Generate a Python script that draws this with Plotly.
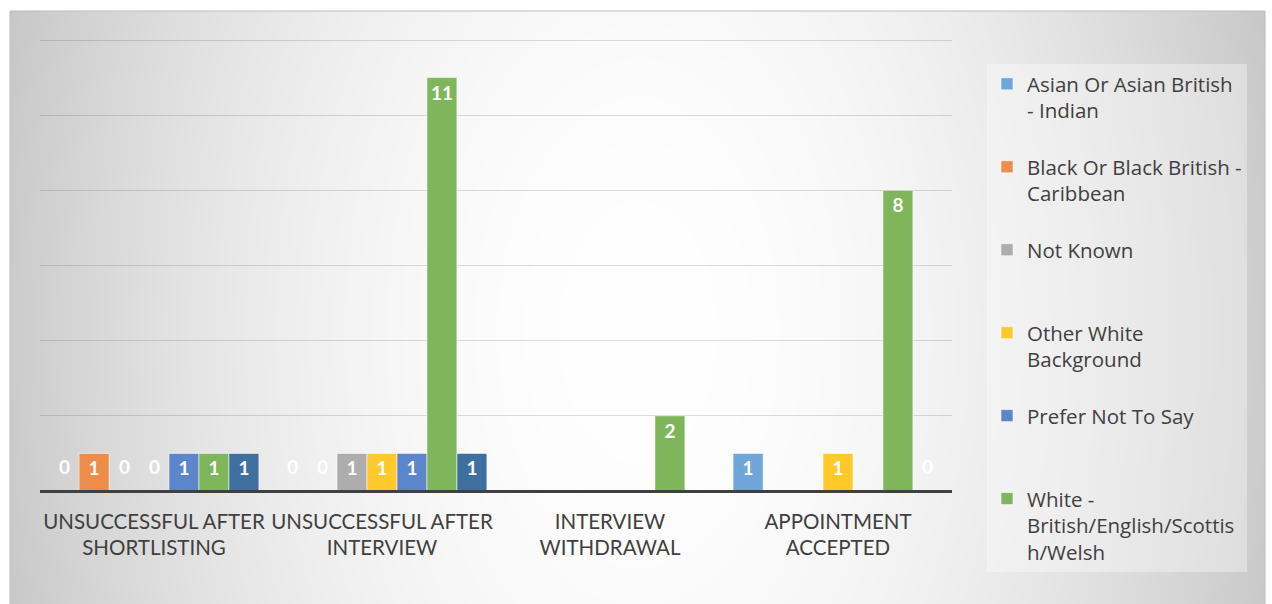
import numpy as np
import zlib, struct, base64
import plotly.graph_objects as go

# ---------------- data ----------------
categories = ["UNSUCCESSFUL AFTER<br>SHORTLISTING", "UNSUCCESSFUL AFTER<br>INTERVIEW",
              "INTERVIEW<br>WITHDRAWAL", "APPOINTMENT<br>ACCEPTED"]
series_names = ["Asian Or Asian British - Indian", "Black Or Black British - Caribbean",
                "Not Known", "Other White Background", "Prefer Not To Say",
                "White - British/English/Scottish/Welsh", "White - Irish"]
legend_labels = ["Asian Or Asian British<br>- Indian", "Black Or Black British -<br>Caribbean",
                 "Not Known", "Other White<br>Background", "Prefer Not To Say",
                 "White -<br>British/English/Scottis<br>h/Welsh", "White - Irish"]
asian_indian = [0, 0, None, 1]
black_caribbean = [1, 0, None, None]
not_known = [0, 1, None, None]
other_white = [0, 1, None, 1]
prefer_not = [1, 1, None, None]
white_british = [1, 11, 2, 8]
white_irish = [1, 1, None, 0]
series_values = [asian_indian, black_caribbean, not_known, other_white,
                 prefer_not, white_british, white_irish]
show_in_legend = [True, True, True, True, True, True, False]
y_ticks = [0, 2, 4, 6, 8, 10, 12]

colors = ["#6FA5D9", "#EE8C4A", "#ADADAD", "#FFC82B", "#5C85CB", "#7FB55B", "#3F6F9E"]

# ---------------- layout constants ----------------
W, H = 1272, 604
ML, MR, MT, MB = 40, 320, 36, 24          # plot area extends below the value axis
PW, PH = W - ML - MR, H - MT - MB
AXIS_PX = 491                              # pixel row of value 0
TOP_TICK_PX = 40                           # pixel row of the top gridline
unit_px = (AXIS_PX - TOP_TICK_PX) / max(y_ticks)
YMAX = (AXIS_PX - MT) / unit_px
YMIN = -(H - MB - AXIS_PX) / unit_px
BARGAP = 0.08
FONT = "Lato"

def px2x(px):
    return (px - ML) / PW

def px2y(py):
    return (H - MB - py) / PH

# ---------------- background gradient image ----------------
def png_uri(gray):
    h, w = gray.shape
    raw = b"".join(b"\x00" + gray[r].astype(np.uint8).tobytes() for r in range(h))
    def chunk(t, d):
        c = struct.pack(">I", len(d)) + t + d
        return c + struct.pack(">I", zlib.crc32(t + d) & 0xffffffff)
    png = (b"\x89PNG\r\n\x1a\n"
           + chunk(b"IHDR", struct.pack(">IIBBBBB", w, h, 8, 0, 0, 0, 0))
           + chunk(b"IDAT", zlib.compress(raw, 9))
           + chunk(b"IEND", b""))
    return "data:image/png;base64," + base64.b64encode(png).decode()

FX0, FX1, FY0, FY1 = 10, 1265, 11, 606
gw, gh = (FX1 - FX0) // 2, (FY1 - FY0) // 2
xx, yy = np.meshgrid(np.arange(gw) * 2 + FX0, np.arange(gh) * 2 + FY0)
d = np.sqrt(((xx - 637) / 660.0) ** 2 + ((yy - 331) / 1100.0) ** 2)
grad = np.clip(255 - 56 * d ** 1.9, 197, 255)
bg_uri = png_uri(grad)

# ---------------- figure ----------------
fig = go.Figure()
for i, (nm, lab, vals, col, sl) in enumerate(zip(series_names, legend_labels, series_values,
                                                colors, show_in_legend)):
    nlines = lab.count("<br>") + 1
    padded = lab + "<br> " * (3 - nlines)
    texts = [str(v) if (v is not None and v != 0) else "" for v in vals]
    fig.add_trace(go.Bar(
        x=categories, y=vals, name=padded, showlegend=sl,
        marker=dict(color=col, line=dict(color="rgba(255,255,255,0.55)", width=1)),
        text=texts, textposition="inside", insidetextanchor="end",
        textfont=dict(color="white", size=19, family=FONT, weight="bold"),
        constraintext="none", legendgroup=f"g{i}",
    ))

# zero-value labels
nser = len(series_values)
slot = PW / len(categories) * (1 - BARGAP) / nser
for i, vals in enumerate(series_values):
    for c, v in zip(categories, vals):
        if v == 0:
            fig.add_annotation(x=c, y=0, xref="x", yref="y", text="0", showarrow=False,
                               xshift=(i - (nser - 1) / 2) * slot, yshift=25,
                               font=dict(color="white", size=19, family=FONT, weight="bold"))

fig.add_layout_image(dict(
    source=bg_uri, xref="paper", yref="paper",
    x=px2x(FX0), y=px2y(FY0), sizex=(FX1 - FX0) / PW, sizey=(FY1 - FY0) / PH,
    xanchor="left", yanchor="top", sizing="stretch", layer="below"))
fig.add_shape(type="rect", xref="paper", yref="paper",
              x0=px2x(FX0), x1=px2x(FX1), y0=px2y(FY1), y1=px2y(FY0),
              line=dict(color="#BDBDBD", width=1), layer="below")

fig.update_layout(
    width=W, height=H,
    margin=dict(l=ML, r=MR, t=MT, b=MB),
    paper_bgcolor="white", plot_bgcolor="rgba(0,0,0,0)",
    barmode="group", bargap=BARGAP, bargroupgap=0,
    font=dict(family=FONT, color="#404040"),
    legend=dict(x=px2x(987), y=px2y(64), xanchor="left", yanchor="top",
                bgcolor="rgba(255,255,255,0.35)",
                font=dict(size=20.5, color="#404040", family="Open Sans"),
                valign="top", tracegroupgap=0),
    showlegend=True,
)
fig.update_xaxes(anchor="free", position=px2y(AXIS_PX),
                 showline=True, linecolor="#404040", linewidth=3, ticks="",
                 tickfont=dict(size=20.5, color="#404040"), showgrid=False,
                 ticklabelstandoff=11)
fig.update_yaxes(range=[YMIN, YMAX], tickvals=y_ticks, showticklabels=False, showgrid=True,
                 gridcolor="rgba(0,0,0,0.13)", gridwidth=1, zeroline=False)

fig.write_html("out.html", config={"displayModeBar": False},
               post_script="document.body.style.margin='0';")
